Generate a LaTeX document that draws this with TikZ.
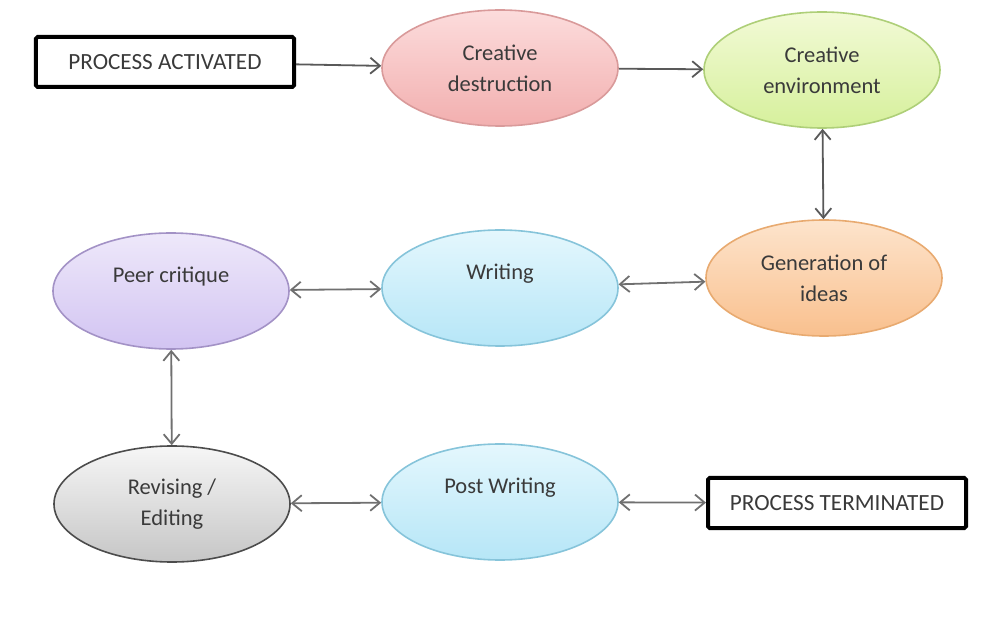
\documentclass[tikz,border=0pt]{standalone}
\usepackage{fontspec}
\setmainfont{Carlito}
\usetikzlibrary{shapes.geometric, arrows.meta, positioning}

\definecolor{txtgray}{HTML}{3A3A3A}
\definecolor{linegray}{HTML}{707070}
\definecolor{pinktop}{HTML}{FCDCDC}
\definecolor{pinkbot}{HTML}{F2AFAF}
\definecolor{pinkline}{HTML}{D99A9A}
\definecolor{greentop}{HTML}{F2FAD6}
\definecolor{greenbot}{HTML}{D6F09C}
\definecolor{greenline}{HTML}{AECF78}
\definecolor{peachtop}{HTML}{FDE4CC}
\definecolor{peachbot}{HTML}{F9C08E}
\definecolor{peachline}{HTML}{E8AA70}
\definecolor{skytop}{HTML}{E4F7FD}
\definecolor{skybot}{HTML}{B6E6F7}
\definecolor{skyline}{HTML}{86C4DA}
\definecolor{lilactop}{HTML}{EEE8FA}
\definecolor{lilacbot}{HTML}{D2C4F2}
\definecolor{lilacline}{HTML}{A392C6}
\definecolor{greytop}{HTML}{F6F6F6}
\definecolor{greybot}{HTML}{C6C6C6}

\tikzset{
    stage/.style={ellipse, draw, line width=0.4mm, minimum width=59mm, minimum height=29mm,
        align=center, text=txtgray, font=\fontsize{16}{22}\selectfont, inner sep=0pt},
    oneline/.style={text depth=8mm},
    endbox/.style={draw=black, line width=1mm, rounded corners=0.4mm, minimum width=64.5mm,
        minimum height=12.5mm, text=txtgray, font=\fontsize{16.5}{18}\selectfont},
    link/.style={linegray, line width=0.45mm}
}

\begin{document}
\begin{tikzpicture}[x=0.25mm, y=-0.25mm, >={Straight Barb[length=2.4mm,width=4mm]}]
    \useasboundingbox (0,0) rectangle (986,634);

    % top row
    \node[endbox] (start) at (165,62) {PROCESS ACTIVATED};
    \node[stage, draw=pinkline, top color=pinktop, bottom color=pinkbot] (destr) at (500,68) {Creative\\destruction};
    \node[stage, draw=greenline, top color=greentop, bottom color=greenbot] (env) at (822,70) {Creative\\environment};

    % middle row
    \node[stage, oneline, draw=lilacline, top color=lilactop, bottom color=lilacbot] (peer) at (171,291) {Peer critique};
    \node[stage, oneline, draw=skyline, top color=skytop, bottom color=skybot] (writ) at (500,288) {Writing};
    \node[stage, draw=peachline, top color=peachtop, bottom color=peachbot] (gen) at (824,278) {Generation of\\ideas};

    % bottom row
    \node[stage, draw=black!70, top color=greytop, bottom color=greybot] (rev) at (172,504) {Revising /\\Editing};
    \node[stage, oneline, draw=skyline, top color=skytop, bottom color=skybot] (post) at (500,502) {Post Writing};
    \node[endbox] (stop) at (837,503) {PROCESS TERMINATED};

    % connectors
    \draw[link, ->, black!65] (start) -- (destr);
    \draw[link, ->, black!65] (destr) -- (env);
    \draw[link, <->, black!65] (env) -- (gen);
    \draw[link, <->] (writ) -- (gen);
    \draw[link, <->] (peer) -- (writ);
    \draw[link, <->] (peer) -- (rev);
    \draw[link, <->] (rev) -- (post);
    \draw[link, <->] (post) -- (stop);
\end{tikzpicture}
\end{document}
